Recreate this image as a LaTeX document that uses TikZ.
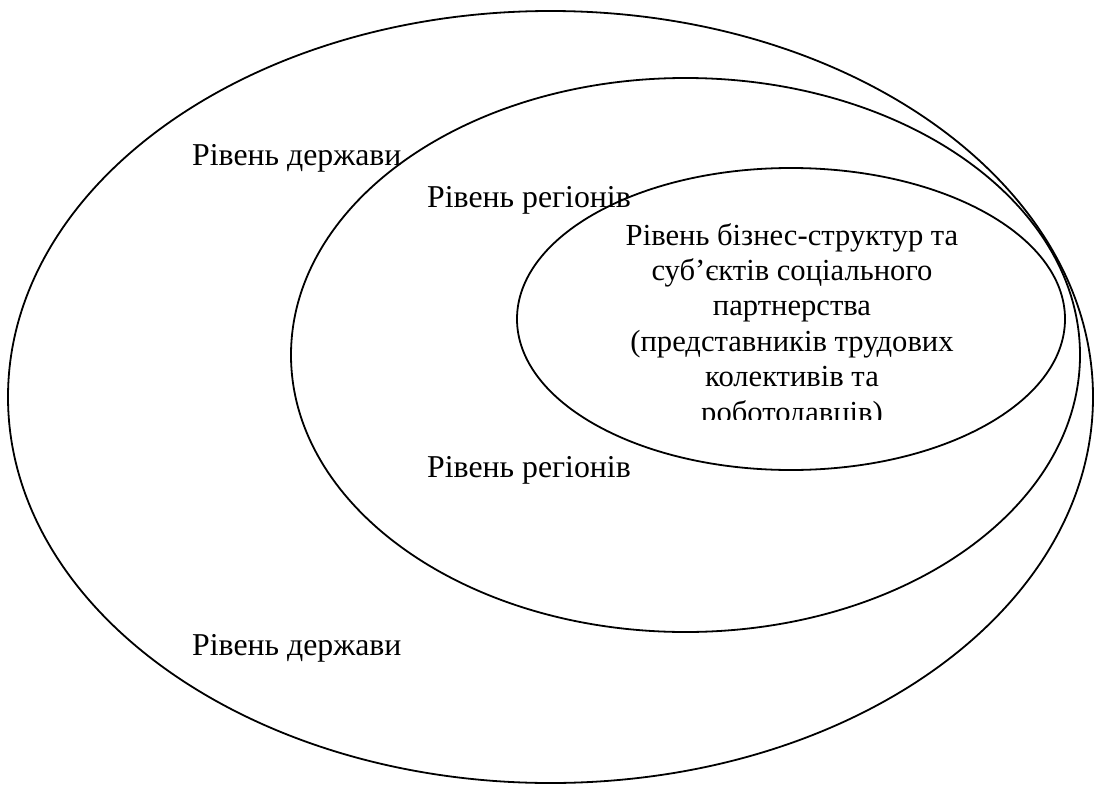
\documentclass[tikz,border=0pt]{standalone}
\usepackage{fontspec}
\setmainfont{Liberation Serif}
\newfontfamily\tnr{Liberation Serif}
\begin{document}
\begin{tikzpicture}[x=1pt,y=-1pt,
  ring/.style={draw=black,line width=1.8pt},
  lbl/.style={inner sep=0pt,anchor=base west,font=\tnr\fontsize{31.8}{36}\selectfont}]
\useasboundingbox (0,0) rectangle (1094,784);
\clip (0,0) rectangle (1094,784);
\coordinate (co) at (550.5,397);
\coordinate (cm) at (685.5,355);
\coordinate (ci) at (791,319);
\node[lbl] (d1) at (192,165) {Рівень держави};
\node[lbl] (d2) at (192,655) {Рівень держави};
\node[lbl] (r1) at (427,207) {Рівень регіонів};
\node[lbl] (r2) at (427,477) {Рівень регіонів};
\begin{scope}
\clip (500,150) rectangle (1080,419);
\node[inner sep=0pt,anchor=base,align=center,font=\tnr\fontsize{30.6}{35.4}\selectfont] (b) at (792,422)
 {Рівень бізнес-структур та\\суб’єктів соціального\\партнерства\\(представників трудових\\колективів та\\роботодавців)};
\end{scope}
\draw[ring] (co) ellipse [x radius=542.5, y radius=386];
\draw[ring] (cm) ellipse [x radius=394.5, y radius=277];
\draw[ring] (ci) ellipse [x radius=274, y radius=151];
\end{tikzpicture}
\end{document}
